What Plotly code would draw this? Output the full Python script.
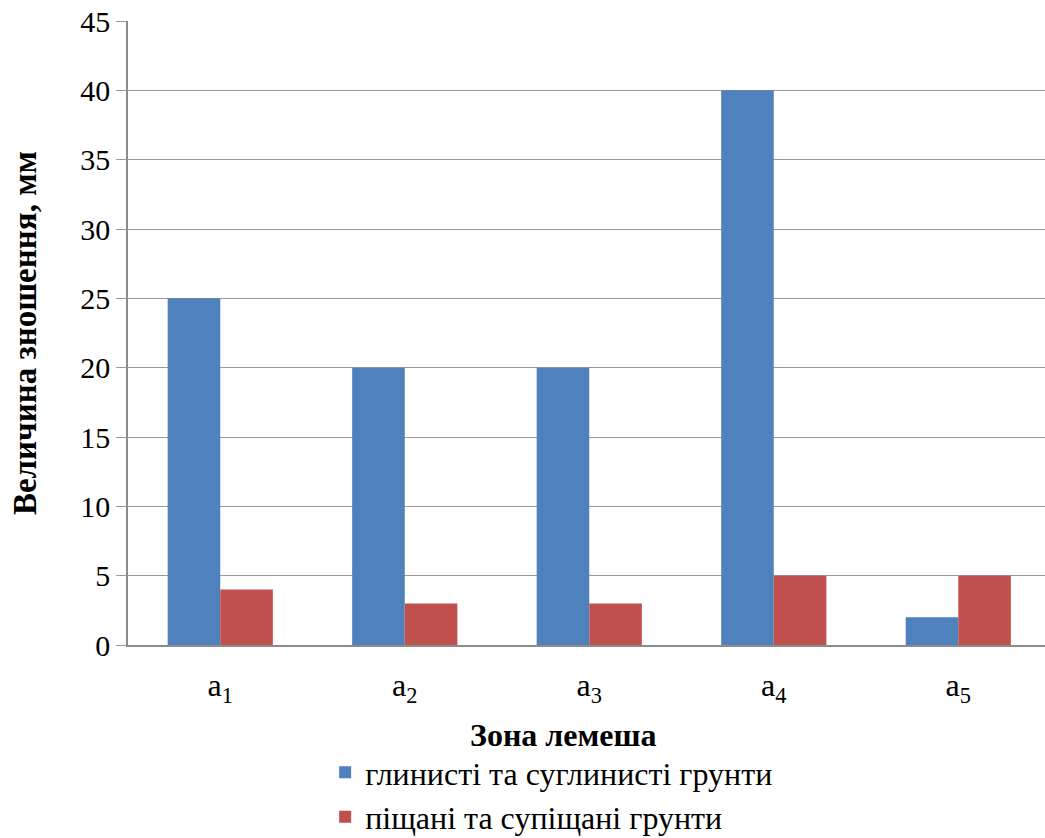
import plotly.graph_objects as go

categories = ["a<sub>1</sub>", "a<sub>2</sub>", "a<sub>3</sub>", "a<sub>4</sub>", "a<sub>5</sub>"]
clay = [25, 20, 20, 40, 2]
sand = [4, 3, 3, 5, 5]
series_names = ["глинисті та суглинисті грунти", "піщані та супіщані грунти"]
y_ticks = [0, 5, 10, 15, 20, 25, 30, 35, 40, 45]

FONT = "Liberation Serif"

fig = go.Figure()
fig.add_trace(go.Bar(x=categories, y=clay, name=series_names[0], marker_color="#4F81BD", marker_line_width=0))
fig.add_trace(go.Bar(x=categories, y=sand, name=series_names[1], marker_color="#C0504D", marker_line_width=0))

fig.update_layout(
    width=1045, height=838,
    margin=dict(l=128, r=0, t=21, b=193, autoexpand=False),
    paper_bgcolor="white", plot_bgcolor="white",
    barmode="group", bargap=0.43, bargroupgap=0,
    font=dict(family=FONT, color="black"),
    legend=dict(orientation="v", x=0.462, xanchor="center", y=-0.16, yanchor="top",
                font=dict(size=32, family=FONT), traceorder="normal"),
    showlegend=True,
)
fig.add_annotation(
    text="<b>Зона лемеша</b>", xref="paper", yref="paper", x=0.475, y=-0.144,
    xanchor="center", yanchor="middle", showarrow=False, font=dict(size=32, family=FONT),
)
fig.update_xaxes(
    range=[-0.5, 4.47],
    showline=True, linecolor="#8c8c8c", linewidth=1.5,
    tickfont=dict(size=32, family=FONT),
    ticklabelstandoff=11,
    ticks="", showgrid=False, automargin=False,
)
fig.update_yaxes(
    range=[0, 45], tickvals=y_ticks, ticktext=[str(v) for v in y_ticks],
    showgrid=True, gridcolor="#999999", gridwidth=1,
    showline=True, linecolor="#8c8c8c", linewidth=1.5,
    ticks="outside", ticklen=10, tickcolor="#999999",
    tickfont=dict(size=30, family=FONT),
    title=dict(text="<b>Величина зношення, мм</b>", font=dict(size=33, family=FONT), standoff=34),
    zeroline=False, automargin=False,
)

fig.write_html("out.html")
